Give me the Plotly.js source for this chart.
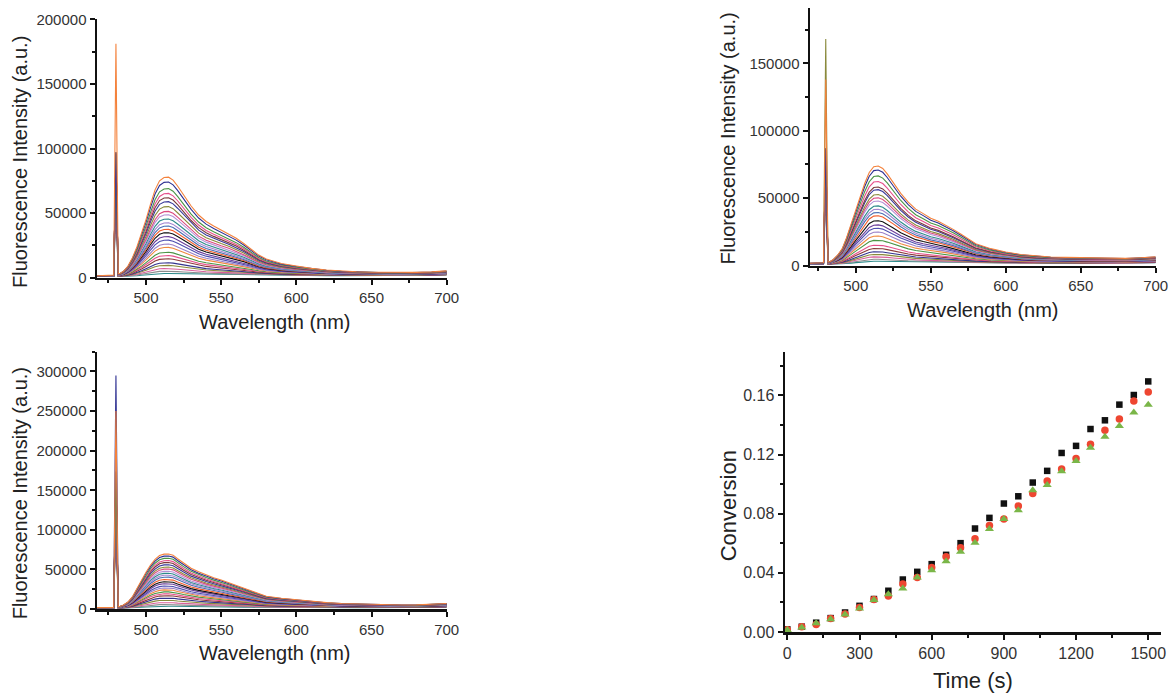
<!DOCTYPE html>
<html>
<head>
<meta charset="utf-8">
<script src="https://cdn.plot.ly/plotly-3.0.1.min.js"></script>
<style>
html,body{margin:0;padding:0;background:#fff;}
#chart{width:1173px;height:693px;}
</style>
</head>
<body>
<div id="chart"></div>
<script>
// ---------- Data ----------
// wavelength grid (nm)
const wavelengths = [466,470,474,477,478.5,480,481.5,483,485,488,491,494,497,500,503,506,509,512,515,518,521,525,530,535,540,545,550,555,560,565,570,575,580,590,600,610,620,630,640,650,660,670,680,690,700];

// lowest spectrum (background) shared by all panels
const baseline = [1000,1000,1000,1000,1000,1000,1000,1000,1000,1000,1000,1000,1100,1200,1300,1400,1500,1500,1500,1500,1500,1500,1500,1500,1500,1500,1500,1500,1500,1500,1500,1500,1500,1500,1500,1500,1500,1500,1500,1500,1500,1500,1600,1800,2000];

// top (outermost, orange) spectrum envelope of each panel; 480 nm entry is the band value, the laser spike is separate
const topSpectrumA = [1500,1500,1500,1600,2000,2500,3000,3500,5000,9000,15500,24000,34000,45000,57000,68000,75000,77500,77800,75500,71000,64500,55500,48500,43500,40000,37000,34000,30500,26500,22000,17500,14500,11000,9000,7200,6000,5200,4600,4200,4000,4000,4100,4500,5300];
const topSpectrumB = [1500,1500,1500,1600,2000,2300,2500,3000,4400,7800,12500,21000,31000,41000,51000,61000,69000,73300,73800,72000,68000,61500,53500,47000,41800,38500,35000,32800,30000,26800,23300,19800,16200,12500,10000,8200,7000,6300,6000,5700,5400,5200,5300,5800,6400];
const topSpectrumC = [1700,1700,1700,1700,2000,2500,3000,3500,5000,8800,15500,26000,36500,46500,55500,62700,67500,69300,69500,68000,63500,58000,51500,47000,43000,39500,36600,33000,29500,26000,22500,19000,16000,13500,11400,9500,8000,7000,6300,5900,5400,5000,5200,6000,7000];

// band maxima (~513 nm) of each spectrum, lowest to highest
const peaksA = [1800,3600,5700,8200,10300,13400,16000,18600,22400,25000,28100,30900,34000,36600,39200,41800,44800,48200,50800,54600,58500,61600,65000,68800,74000,77800];
const peaksB = [1700,3200,5000,6900,8900,11400,13900,17600,20800,23800,26700,29200,32400,36100,38600,41100,43600,47300,49700,52200,55900,57900,62100,66300,70800,73800];
const peaksC = [2100,4200,6700,9700,12600,15600,18100,20600,23200,25700,28200,31200,33700,36600,39600,42100,44600,47200,50100,52600,55600,58500,61000,64000,66900,69500];

// excitation (480 nm) spike heights of each spectrum, lowest to highest
const spikesA = [60000,64000,68000,72000,75000,78000,80000,82000,84000,86000,88000,90000,91000,92000,93000,94000,95000,95000,96000,96000,96000,96000,97000,97000,97000,181000];
const spikesB = [55000,58000,61000,64000,66000,68000,70000,72000,74000,76000,78000,80000,81000,82000,83000,84000,84000,85000,85000,168000,86000,86000,86000,87000,87000,138000];
const spikesC = [120000,125000,130000,134000,138000,142000,145000,148000,151000,154000,157000,160000,162000,164000,166000,168000,169000,170000,171000,172000,172000,173000,173000,174000,295000,250000];

// spectrum colours, lowest to highest
const lineColors = ['#2e8b8b','#8c8c8c','#d95f9a','#8a8a3c','#34348f','#8b3a3a','#e6508c','#4b9445','#f0883e','#9b80c8','#4f4fb0','#6a3d9a','#111111','#f25c2a','#4a6fb3','#a386d0','#2e8b8b','#b592d6','#dc4a80','#8a8a3c','#3a3a9a','#7c3b3b','#e6508c','#4b9445','#2f3192','#f4823c'];

// conversion vs time
const timeS = [0,60,120,180,240,300,360,420,480,540,600,660,720,780,840,900,960,1020,1080,1140,1200,1260,1320,1380,1440,1500];
const convBlack = [0.0018,0.0036,0.0063,0.0094,0.0132,0.0177,0.0223,0.0279,0.0355,0.0407,0.0459,0.0522,0.0601,0.0700,0.0772,0.0869,0.0918,0.1011,0.1090,0.1211,0.1259,0.1373,0.1432,0.1538,0.1603,0.1695];
const convRed   = [0.0015,0.0036,0.0051,0.0092,0.0121,0.0166,0.0220,0.0243,0.0324,0.0369,0.0436,0.0509,0.0570,0.0630,0.0720,0.0765,0.0853,0.0936,0.1022,0.1103,0.1173,0.1270,0.1364,0.1441,0.1563,0.1623];
const convGreen = [0.0013,0.0031,0.0060,0.0087,0.0119,0.0159,0.0216,0.0256,0.0295,0.0369,0.0418,0.0479,0.0542,0.0603,0.0696,0.0765,0.0824,0.0959,0.0995,0.1087,0.1157,0.1247,0.1321,0.1394,0.1484,0.1538];

// ---------- Build traces ----------
const W = 1173, H = 693;
const traces = [];
function addSpectra(top, peaks, spikes, xa, ya){
  const topPeak = peaks[peaks.length-1];
  for(let i=0;i<peaks.length;i++){
    const f = peaks[i]/topPeak;
    const y = wavelengths.map((w,k)=> w===480 ? spikes[i] : baseline[k] + f*(top[k]-baseline[k]));
    traces.push({type:'scatter',mode:'lines',x:wavelengths,y:y,xaxis:xa,yaxis:ya,
      line:{color:lineColors[i],width:1.1},showlegend:false,hoverinfo:'skip'});
  }
}
addSpectra(topSpectrumA, peaksA, spikesA, 'x', 'y');
addSpectra(topSpectrumB, peaksB, spikesB, 'x2', 'y2');
addSpectra(topSpectrumC, peaksC, spikesC, 'x3', 'y3');

traces.push({type:'scatter',mode:'markers',x:timeS,y:convBlack,xaxis:'x4',yaxis:'y4',cliponaxis:false,
  marker:{symbol:'square',size:6.5,color:'#111111'},showlegend:false});
traces.push({type:'scatter',mode:'markers',x:timeS,y:convRed,xaxis:'x4',yaxis:'y4',cliponaxis:false,
  marker:{symbol:'circle',size:7.5,color:'#ee4631'},showlegend:false});
traces.push({type:'scatter',mode:'markers',x:timeS,y:convGreen,xaxis:'x4',yaxis:'y4',cliponaxis:false,
  marker:{symbol:'triangle-up',size:8,color:'#7ab648'},showlegend:false});

// ---------- Layout ----------
const FONT = 'Liberation Sans, Arial, sans-serif';
function ax(domain, range, tick0, dtick, mtick, fmt, anchor, fsize){
  return {domain:domain, range:range, anchor:anchor, tick0:tick0, dtick:dtick, tickmode:'linear',
    showline:true, linecolor:'#111', linewidth:2.5, showgrid:false, zeroline:false,
    ticks:'outside', ticklen:5, tickwidth:2, tickcolor:'#111',
    tickfont:{family:FONT,size:fsize,color:'#333'}, tickformat:fmt,
    minor:{dtick:mtick, tick0:tick0, ticks:'outside', ticklen:3, tickwidth:2, tickcolor:'#111', showgrid:false},
    fixedrange:true};
}
const px = v=>v/W, py = v=>1-v/H;
const layout = {
  width:W, height:H, margin:{l:0,r:0,t:0,b:0}, paper_bgcolor:'#fff', plot_bgcolor:'rgba(0,0,0,0)',
  font:{family:FONT,color:'#222'}, showlegend:false,
  xaxis: ax([px(97),px(446.7)],[467.4,700],500,50,25,'d','y',15),
  yaxis: ax([py(277.7),py(19.3)],[0,200000],0,50000,25000,'d','x',15),
  xaxis2: ax([px(810),px(1155.7)],[469.5,700],500,50,25,'d','y2',15),
  yaxis2: ax([py(265.5),py(8)],[0,191000],0,50000,25000,'d','x2',15),
  xaxis3: ax([px(97),px(446.7)],[467.4,700],500,50,25,'d','y3',15),
  yaxis3: ax([py(609),py(351.7)],[0,325000],0,50000,25000,'d','x3',15),
  xaxis4: ax([px(785),px(1161)],[-9.6,1553],0,300,150,'d','y4',16),
  yaxis4: ax([py(632),py(351.7)],[0,0.1896],0,0.04,0.02,'.2f','x4',16),
  annotations: []
};
function title(text,x,y,rot,size){
  layout.annotations.push({text:text,xref:'paper',yref:'paper',x:px(x),y:py(y),xanchor:'center',yanchor:'middle',
    showarrow:false,textangle:rot,font:{family:FONT,size:size,color:'#222'}});
}
title('Fluorescence Intensity (a.u.)',20,162,-90,20);
title('Wavelength (nm)',274.7,321.7,0,20);
title('Fluorescence Intensity (a.u.)',728.3,138.3,-90,20);
title('Wavelength (nm)',983.3,310,0,20);
title('Fluorescence Intensity (a.u.)',20,493.3,-90,20);
title('Wavelength (nm)',274.7,653.3,0,20);
title('Conversion',728.3,506,-90,22);
title('Time (s)',972.5,680,0,22);

Plotly.newPlot('chart', traces, layout, {staticPlot:true, displayModeBar:false});
</script>
</body>
</html>
